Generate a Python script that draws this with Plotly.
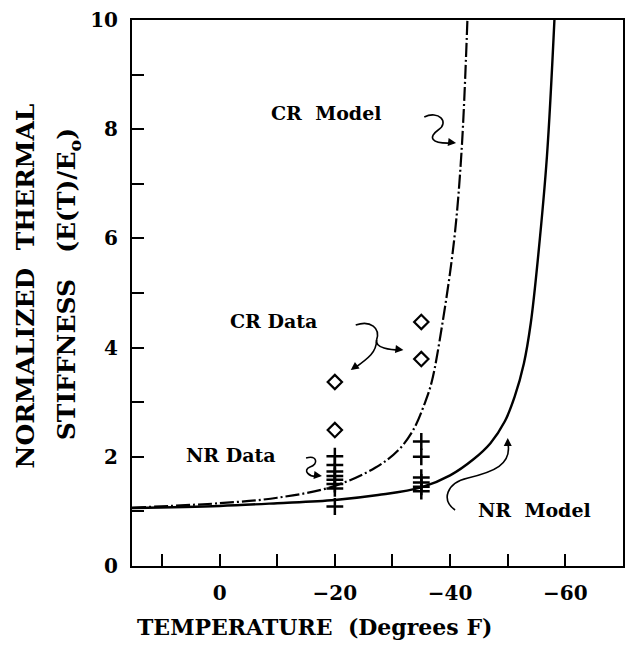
import plotly.graph_objects as go

# ---- data ----
nr_model_t = [15.2, 0, -10, -20, -27.5, -35, -40, -44, -47, -49.5, -51.2, -52.8, -54, -55.3, -56.8, -58.1]
nr_model_e = [1.06, 1.10, 1.15, 1.21, 1.30, 1.44, 1.66, 1.95, 2.25, 2.65, 3.10, 3.71, 4.45, 5.70, 7.50, 10.0]

cr_model_t = [15.2, 0, -10, -19.5, -27, -31, -33.6, -35.6, -36.8, -38.6, -40.7, -42, -43]
cr_model_e = [1.07, 1.15, 1.25, 1.45, 1.80, 2.12, 2.49, 2.98, 3.37, 4.40, 5.97, 7.62, 10.0]

cr_data_t = [-20, -20, -35, -35]
cr_data_e = [3.37, 2.49, 4.47, 3.79]

nr_data_t = [-20, -20, -20, -20, -20, -20, -20, -20, -35, -35, -35, -35, -35, -35]
nr_data_e = [2.01, 1.85, 1.73, 1.65, 1.58, 1.50, 1.42, 1.09, 2.28, 2.00, 1.62, 1.53, 1.45, 1.37]

x_tickvals = [10, 0, -10, -20, -30, -40, -50, -60]
x_ticktext = [" ", "0", " ", "\u221220", " ", "\u221240", " ", "\u221260"]
y_tickvals = [0, 1, 2, 3, 4, 5, 6, 7, 8, 9, 10]
y_ticktext = ["0", " ", "2", " ", "4", " ", "6", " ", "8", " ", "10"]

FONT = "DejaVu Serif"

# pixel -> data helper for hand-drawn decorations
def P(px, py):
    return (-(px - 220) / 5.8, (566 - py) / 54.6)

def path(points_px):
    pts = [P(*p) for p in points_px]
    s = "M %f,%f" % pts[0]
    rest = pts[1:]
    for i in range(0, len(rest), 3):
        a, b, c = rest[i:i + 3]
        s += " C %f,%f %f,%f %f,%f" % (a + b + c)
    return s

fig = go.Figure()

fig.add_trace(go.Scatter(x=nr_model_t, y=nr_model_e, mode="lines",
                         line=dict(color="black", width=2.4, shape="spline", smoothing=1.0),
                         showlegend=False, hoverinfo="skip"))
fig.add_trace(go.Scatter(x=cr_model_t, y=cr_model_e, mode="lines",
                         line=dict(color="black", width=2.2, shape="spline", smoothing=1.0,
                                   dash="14px,3px,2px,3px"),
                         showlegend=False, hoverinfo="skip"))
fig.add_trace(go.Scatter(x=cr_data_t, y=cr_data_e, mode="markers",
                         marker=dict(symbol="diamond-open", size=11, color="black",
                                     line=dict(width=2.2, color="black")),
                         showlegend=False))
fig.add_trace(go.Scatter(x=nr_data_t, y=nr_data_e, mode="markers",
                         marker=dict(symbol="cross-thin", size=12, color="black",
                                     line=dict(width=2.5, color="black")),
                         showlegend=False))

# squiggly pointers
squiggles = [
    [(426, 117), (440, 110), (452, 122), (440, 130), (430, 137), (432, 144), (454, 143)],
    [(357, 325), (372, 320), (382, 328), (378, 340)],
    [(378, 340), (376, 348), (392, 350), (402, 350)],
    [(378, 340), (378, 352), (370, 358), (356, 368)],
    [(307, 458), (318, 455), (320, 464), (311, 467), (303, 470), (310, 478), (320, 476)],
    [(457, 510), (443, 500), (448, 483), (470, 478), (495, 472), (515, 465), (510, 442)],
]
shapes = []
for sq in squiggles:
    shapes.append(dict(type="path", path=path(sq), xref="x", yref="y",
                       line=dict(color="black", width=1.6)))

annotations = []
heads = [((458, 143), -8, -1), ((405, 350), -8, -1), ((352, 370), 7, -5),
         ((323, 476), -8, -1), ((510, 438), 0, 9)]
for (hx, hy), ax, ay in heads:
    x, y = P(hx, hy)
    annotations.append(dict(x=x, y=y, xref="x", yref="y", text="", showarrow=True,
                            arrowhead=2, arrowsize=1, arrowwidth=1.6, arrowcolor="black",
                            ax=ax, ay=ay))

lab_font = dict(family=FONT, size=19, color="black", weight="bold")
for txt, (px, py) in [("CR  Model", (327, 113)), ("CR Data", (274, 321)),
                      ("NR Data", (231, 455)), ("NR  Model", (537, 510))]:
    x, y = P(px, py)
    annotations.append(dict(x=x, y=y, xref="x", yref="y", text=txt, showarrow=False,
                            font=lab_font, xanchor="center", yanchor="middle"))

# axis titles as annotations
title_font = dict(family=FONT, size=22, color="black", weight="bold")
ytitle_font = dict(family=FONT, size=25, color="black", weight="bold")
annotations.append(dict(x=(315 - 132) / (625 - 132), y=-(627 - 566) / (566 - 20),
                        xref="paper", yref="paper", text="TEMPERATURE  (Degrees F)",
                        showarrow=False, font=title_font, xanchor="center", yanchor="middle"))
annotations.append(dict(x=-(132 - 25) / (625 - 132), y=(566 - 286) / (566 - 20),
                        xref="paper", yref="paper", text="NORMALIZED  THERMAL",
                        textangle=-90, showarrow=False, font=ytitle_font,
                        xanchor="center", yanchor="middle"))
annotations.append(dict(x=-(132 - 68) / (625 - 132), y=(566 - 284) / (566 - 20),
                        xref="paper", yref="paper", text="STIFFNESS   (E(T)/E<sub>o</sub>)",
                        textangle=-90, showarrow=False, font=ytitle_font,
                        xanchor="center", yanchor="middle"))

tick_font = dict(family=FONT, size=20, color="black", weight="bold")
fig.update_layout(
    width=629, height=649,
    margin=dict(l=132, r=4, t=20, b=83),
    paper_bgcolor="white", plot_bgcolor="white",
    shapes=shapes, annotations=annotations,
    xaxis=dict(range=[15.2, -70], tickmode="array", tickvals=x_tickvals, ticktext=x_ticktext,
               ticks="inside", ticklen=12, tickwidth=2, tickcolor="black",
               showline=True, linecolor="black", linewidth=2, mirror=True,
               showgrid=False, zeroline=False, tickfont=tick_font, ticklabelstandoff=8),
    yaxis=dict(range=[0, 10], tickmode="array", tickvals=y_tickvals, ticktext=y_ticktext,
               ticks="inside", ticklen=12, tickwidth=2, tickcolor="black",
               showline=True, linecolor="black", linewidth=2, mirror=True,
               showgrid=False, zeroline=False, tickfont=tick_font, ticklabelstandoff=8),
)

fig.write_html("out.html")
